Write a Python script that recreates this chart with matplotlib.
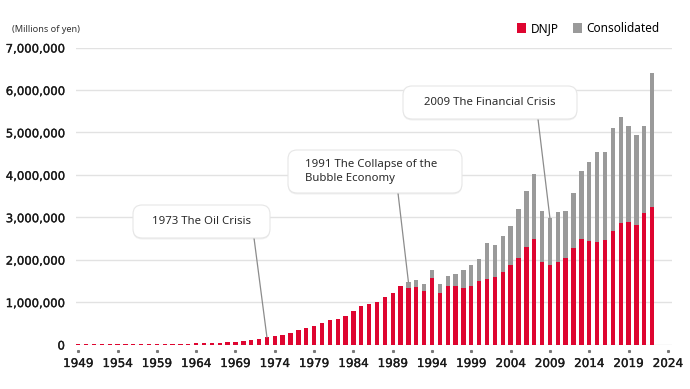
import matplotlib
matplotlib.use("Agg")
import matplotlib.pyplot as plt
from matplotlib.patches import FancyBboxPatch, Patch
import matplotlib.patheffects as pe
import numpy as np

years = list(range(1949, 2023))
dnjp = [8000, 8000, 9000, 10000, 11000, 12000, 12000, 13000, 14000, 14000,
        15000, 17000, 19000, 21000, 23000, 25000, 28000, 34000, 42000, 55000,
        70000, 86000, 110000, 122000, 165000, 195000, 220000, 268000, 330000, 382000,
        447000, 510000, 570000, 600000, 680000, 780000, 900000, 960000, 990000, 1110000,
        1225000, 1370000, 1340000, 1355000, 1270000, 1570000, 1220000, 1390000, 1370000, 1330000,
        1390000, 1490000, 1550000, 1580000, 1710000, 1870000, 2050000, 2290000, 2485000, 1950000,
        1880000, 1950000, 2030000, 2280000, 2490000, 2440000, 2420000, 2470000, 2670000, 2860000,
        2890000, 2820000, 3090000, 3230000]
cons_years = list(range(1991, 2023))
consolidated = [1470000, 1510000, 1420000, 1750000, 1420000, 1620000, 1660000, 1760000,
                1880000, 2020000, 2400000, 2340000, 2560000, 2800000, 3190000, 3610000,
                4020000, 3140000, 2980000, 3120000, 3150000, 3580000, 4090000, 4310000,
                4530000, 4530000, 5110000, 5360000, 5160000, 4940000, 5150000, 6410000]
xticks = list(range(1949, 2025, 5))
yticks = [0, 1000000, 2000000, 3000000, 4000000, 5000000, 6000000, 7000000]
events = [("1973 The Oil Crisis", 1973), ("1991 The Collapse of the\nBubble Economy", 1991),
          ("2009 The Financial Crisis", 2009)]

RED = "#DE0530"
GREY = "#9a9a9a"
TXT = "#1a1a1a"

W, H = 690, 389
fig = plt.figure(figsize=(W / 100, H / 100), dpi=100)
ax = fig.add_axes([76 / W, 44.5 / H, (672 - 76) / W, (344.5 - 47.5) / H])

bw = 0.55
ax.bar(cons_years, consolidated, width=bw, color=GREY, zorder=2, linewidth=0)
ax.bar(years, dnjp, width=bw, color=RED, zorder=3, linewidth=0)

ax.set_xlim(1948.71, 2024.53)
ax.set_ylim(0, 7000000)
ax.set_yticks(yticks)
ax.set_yticklabels([f"{v:,}" for v in yticks])
ax.set_xticks(xticks)
ax.set_xticklabels([str(v) for v in xticks])
ax.yaxis.grid(True, color="#e2e2e2", linewidth=1.0, zorder=0)
ax.set_axisbelow(True)
for s in ax.spines.values():
    s.set_visible(False)
ax.tick_params(axis="y", length=0, pad=8, labelsize=8.4, labelcolor=TXT)
ax.tick_params(axis="x", length=0, pad=9, labelsize=8.6, labelcolor=TXT)
stroke = [pe.withStroke(linewidth=0.22, foreground=TXT)]
for lab in ax.get_xticklabels() + ax.get_yticklabels():
    lab.set_fontfamily("DejaVu Sans")
    lab.set_path_effects(stroke)

# small tick dots below the baseline
dot_y = -6 * 7000000 / 297
ax.plot(xticks, [dot_y] * len(xticks), ls="none", marker="s", ms=1.2,
        color="#777777", clip_on=False, zorder=4)

fig.text(12 / W, 1 - 30 / H, "(Millions of yen)", fontsize=6.6, color="#333333",
         va="center", ha="left", family="Noto Sans")

# legend
handles = [Patch(facecolor=RED, edgecolor="none", label="DNJP"),
           Patch(facecolor=GREY, edgecolor="none", label="Consolidated")]
fig.legend(handles=handles, loc="center right", bbox_to_anchor=(664 / W, 1 - 28.5 / H),
           ncol=2, frameon=False, handlelength=0.8, handleheight=0.85,
           handletextpad=0.35, columnspacing=1.2, borderaxespad=0,
           prop={"family": "Noto Sans", "size": 8.5})

# annotation boxes (pixel extents: x0, x1, y0(top), y1(bottom)), line start x
boxes = [
    (133, 270, 205, 238, 254, 0.17e6, "center"),
    (288, 462, 150, 193, 398, 1.47e6, "left"),
    (403, 577, 86, 119, 538, 2.98e6, "center"),
]
for (text, yr), (x0, x1, yt, yb, lx, val, ha) in zip(events, boxes):
    fx0, fx1 = x0 / W, x1 / W
    fy0, fy1 = 1 - yb / H, 1 - yt / H
    r = 9
    shadow = FancyBboxPatch((fx0, fy0 - 1.5 / H), fx1 - fx0, fy1 - fy0,
                            boxstyle=f"round,pad=0,rounding_size={r / W}",
                            transform=fig.transFigure, facecolor="#000000", alpha=0.06,
                            edgecolor="none", zorder=5, mutation_aspect=W / H)
    box = FancyBboxPatch((fx0, fy0), fx1 - fx0, fy1 - fy0,
                         boxstyle=f"round,pad=0,rounding_size={r / W}",
                         transform=fig.transFigure, facecolor="white",
                         edgecolor="#e6e6e6", linewidth=0.8, zorder=6, mutation_aspect=W / H)
    fig.patches.extend([shadow, box])
    if ha == "center":
        fig.text((fx0 + fx1) / 2, (fy0 + fy1) / 2, text, ha="center", va="center",
                 fontsize=8.2, color="#2a2a2a", family="Noto Sans", zorder=7)
    else:
        fig.text((x0 + 17) / W, (fy0 + fy1) / 2, text, ha="left", va="center",
                 fontsize=8.2, color="#2a2a2a", family="Noto Sans", zorder=7,
                 linespacing=1.35)
    ax.annotate("", xy=(yr, val), xycoords="data",
                xytext=(lx / W, 1 - yb / H), textcoords="figure fraction",
                arrowprops=dict(arrowstyle="-", color="#8c8c8c", lw=0.9,
                                shrinkA=0, shrinkB=0), zorder=4)

fig.savefig("out.png", dpi=100)
